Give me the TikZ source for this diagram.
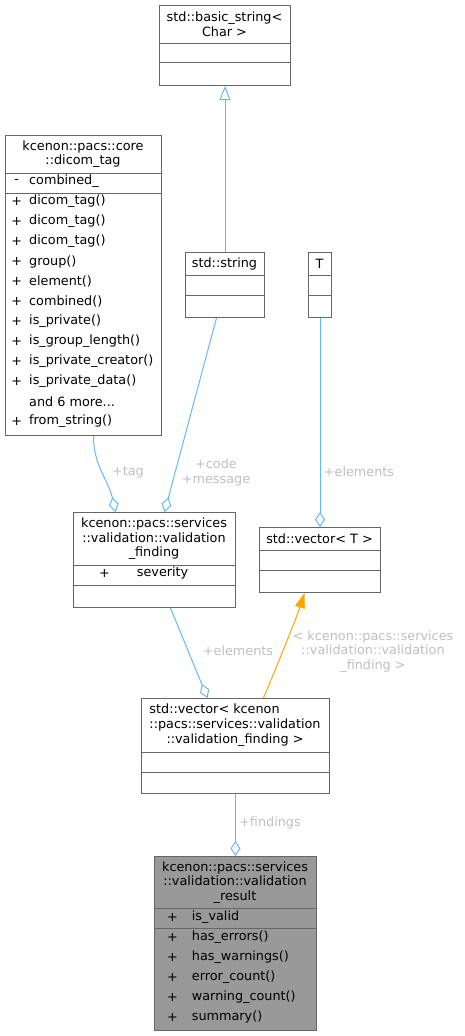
\documentclass[tikz,border=0pt]{standalone}
\usepackage{fontspec}
\setmainfont{DejaVu Sans}
\usetikzlibrary{arrows.meta}
\definecolor{edgeblue}{HTML}{63B8FF}
\definecolor{boxgray}{HTML}{666666}
\definecolor{lblgray}{HTML}{BFBFBF}
\definecolor{resultfill}{HTML}{999999}
\definecolor{tmplorange}{HTML}{FFA500}
\newcommand\dgfont{\fontsize{12.8}{14.7}\selectfont}
\newcommand\moremembers{and 6 more...}

\begin{document}
\begin{tikzpicture}[x=1pt,y=-1pt,font=\dgfont,
  classbox/.style={draw=boxgray,line width=1pt,fill=white,inner sep=0pt,anchor=north west},
  divider/.style={draw=boxgray,line width=1pt},
  title/.style={align=center,inner sep=0pt},
  member/.style={anchor=west,inner sep=0pt},
  vis/.style={inner sep=0pt},
  uses/.style={draw=edgeblue,line width=1pt,-{Diamond[open,length=15pt,width=10pt]}},
  inherits/.style={draw=edgeblue,line width=1pt,-{Triangle[open,length=14pt,width=11pt]}},
  instance/.style={draw=tmplorange,line width=1pt,-{Triangle[length=15pt,width=10pt]}},
  elabel/.style={text=lblgray,align=center,inner sep=0pt}]

  \useasboundingbox (0,0) rectangle (465,1036);

  % std::basic_string< Char >
  \node[classbox,minimum width=131pt,minimum height=80pt] (basic) at (159,5) {};
  \node[title] (basicT) at (224.5,24) {std::basic\_string<\\Char >};
  \draw[divider] ([yshift=-38pt]basic.north west) -- ([yshift=-38pt]basic.north east);
  \draw[divider] ([yshift=-57pt]basic.north west) -- ([yshift=-57pt]basic.north east);

  % kcenon::pacs::core::dicom_tag
  \node[classbox,minimum width=156pt,minimum height=300pt] (tag) at (5,135) {};
  \node[title] (tagT) at (83,154) {kcenon::pacs::core\\::dicom\_tag};
  \draw[divider] ([yshift=-38pt]tag.north west) -- ([yshift=-38pt]tag.north east);
  \draw[divider] ([yshift=-58pt]tag.north west) -- ([yshift=-58pt]tag.north east);
  \foreach \v/\m [count=\i from 0] in {-/combined\_,+/dicom\_tag(),+/dicom\_tag(),+/dicom\_tag(),
      +/group(),+/element(),+/combined(),+/is\_private(),+/is\_group\_length(),
      +/is\_private\_creator(),+/is\_private\_data(),{}/\moremembers,+/from\_string()}{
    \node[vis] (tagv\i) at (16.7,{181.5+20*\i}) {\v};
    \node[member] (tagm\i) at (29,{181.5+20*\i}) {\m};
  }

  % std::string
  \node[classbox,minimum width=79pt,minimum height=65pt] (str) at (185,252) {};
  \node[title] (strT) at (224.5,264.3) {std::string};
  \draw[divider] ([yshift=-23pt]str.north west) -- ([yshift=-23pt]str.north east);
  \draw[divider] ([yshift=-43pt]str.north west) -- ([yshift=-43pt]str.north east);

  % T
  \node[classbox,minimum width=23pt,minimum height=65pt] (T) at (308,252) {};
  \node[title] (TT) at (319.5,264.3) {T};
  \draw[divider] ([yshift=-23pt]T.north west) -- ([yshift=-23pt]T.north east);
  \draw[divider] ([yshift=-43pt]T.north west) -- ([yshift=-43pt]T.north east);

  % validation_finding
  \node[classbox,minimum width=162pt,minimum height=95pt] (finding) at (73,512) {};
  \node[title] (findingT) at (154,538.7) {kcenon::pacs::services\\::validation::validation\\\_finding};
  \draw[divider] ([yshift=-53pt]finding.north west) -- ([yshift=-53pt]finding.north east);
  \draw[divider] ([yshift=-73pt]finding.north west) -- ([yshift=-73pt]finding.north east);
  \node[vis] (findingv) at (104.5,573) {+};
  \node[member] (findingm) at (136.7,573) {severity};

  % std::vector< T >
  \node[classbox,minimum width=121pt,minimum height=65pt] (vecT) at (259,527) {};
  \node[title] (vecTT) at (319.5,538.3) {std::vector< T >};
  \draw[divider] ([yshift=-23pt]vecT.north west) -- ([yshift=-23pt]vecT.north east);
  \draw[divider] ([yshift=-43pt]vecT.north west) -- ([yshift=-43pt]vecT.north east);

  % std::vector< validation_finding >
  \node[classbox,minimum width=188pt,minimum height=95pt] (vecF) at (141,698) {};
  \node[title] (vecFT) at (235,725.3) {\rlap{std::vector< kcenon}\phantom{::pacs::services::validation}\\::pacs::services::validation\\::validation\_finding >};
  \draw[divider] ([yshift=-54pt]vecF.north west) -- ([yshift=-54pt]vecF.north east);
  \draw[divider] ([yshift=-74pt]vecF.north west) -- ([yshift=-74pt]vecF.north east);

  % validation_result
  \node[classbox,fill=resultfill,minimum width=162pt,minimum height=174pt] (result) at (154,856) {};
  \node[title] (resultT) at (235,882.5) {kcenon::pacs::services\\::validation::validation\\\_result};
  \draw[divider] ([yshift=-52pt]result.north west) -- ([yshift=-52pt]result.north east);
  \draw[divider] ([yshift=-72pt]result.north west) -- ([yshift=-72pt]result.north east);
  \foreach \m [count=\i from 0] in {is\_valid,has\_errors(),has\_warnings(),error\_count(),
      warning\_count(),summary()}{
    \node[vis] (resultv\i) at (172.5,{917+20*\i}) {+};
    \node[member] (resultm\i) at (191.7,{917+20*\i}) {\m};
  }

  % connectors
  \path (str.north) edge[inherits] (basic.south)
        (T.south) edge[uses] (vecT.north)
        ([xshift=-8.5pt]str.south) edge[uses] ([xshift=10pt]finding.north)
        ([xshift=16pt]finding.south) edge[uses] ([xshift=-28pt]vecF.north)
        (vecF.south) edge[uses] (result.north);
  \draw[uses] ([xshift=10pt]tag.south) .. controls +(0,30) and +(-7,-32) .. ([xshift=-39pt]finding.north);
  \draw[instance] ([xshift=28pt]vecF.north) .. controls +(6,-14) and +(-8,25) .. ([xshift=-15.5pt]vecT.south);

  % labels
  \node[elabel] (tagL) at (128,472) {+tag};
  \node[elabel] (strL) at (216,472.5) {+code\\+message};
  \node[elabel] (TL) at (359,472) {+elements};
  \node[elabel] (findingL) at (238,651) {+elements};
  \node[elabel] (instL) at (373,651.5) {< kcenon::pacs::services\\::validation::validation\\\_finding >};
  \node[elabel] (vecFL) at (270,823) {+findings};
\end{tikzpicture}
\end{document}
